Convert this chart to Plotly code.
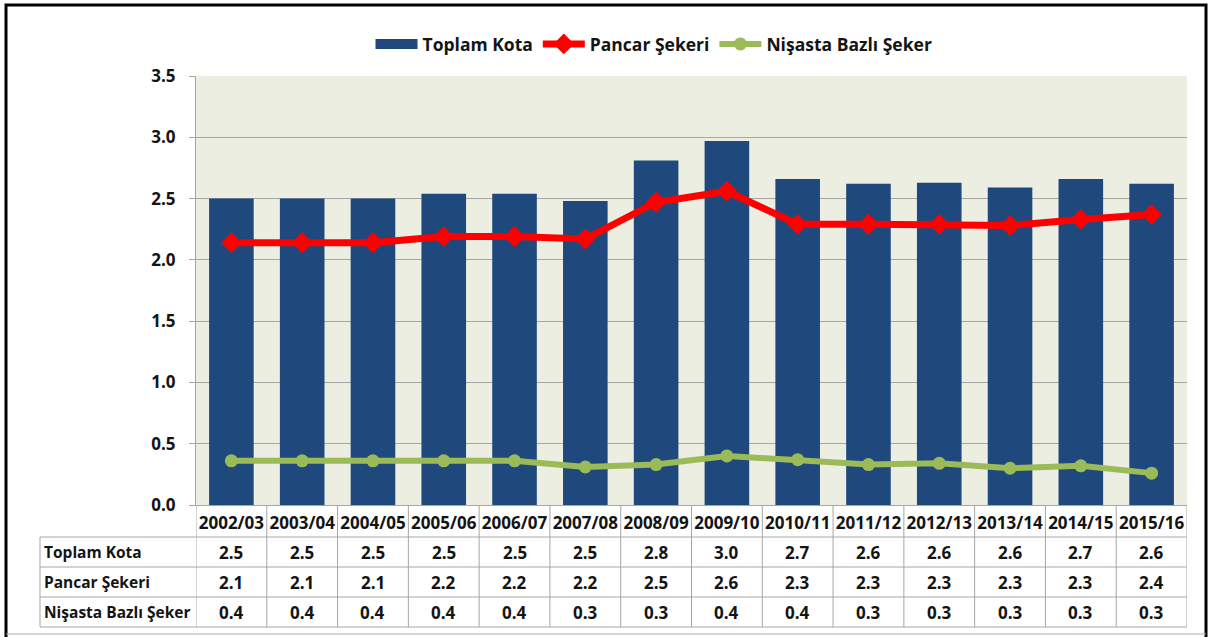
import plotly.graph_objects as go

categories = ["2002/03", "2003/04", "2004/05", "2005/06", "2006/07", "2007/08", "2008/09",
              "2009/10", "2010/11", "2011/12", "2012/13", "2013/14", "2014/15", "2015/16"]
toplam_kota = [2.50, 2.50, 2.50, 2.54, 2.54, 2.48, 2.81, 2.97, 2.66, 2.62, 2.63, 2.59, 2.66, 2.62]
pancar_sekeri = [2.14, 2.14, 2.14, 2.19, 2.19, 2.17, 2.47, 2.56, 2.29, 2.29, 2.29, 2.28, 2.33, 2.37]
nisasta_bazli = [0.36, 0.36, 0.36, 0.36, 0.36, 0.31, 0.33, 0.40, 0.37, 0.33, 0.34, 0.30, 0.32, 0.26]
series_names = ["Toplam Kota", "Pancar Şekeri", "Nişasta Bazlı Şeker"]
y_ticks = [0.0, 0.5, 1.0, 1.5, 2.0, 2.5, 3.0, 3.5]

W, H = 1212, 637
L, R, T, B = 196, 1187, 76, 505
FONT = "Open Sans"
TXT = "#141414"
BLUE = "#1F497D"
RED = "#FF0000"
GREEN = "#9BBB59"
GRID = "#A6A6A6"


def px(x):
    return (x - L) / (R - L)


def py(y):
    return (B - y) / (B - T)


fig = go.Figure()
fig.add_trace(go.Bar(x=categories, y=toplam_kota, name=series_names[0], showlegend=False,
                     marker=dict(color=BLUE, line=dict(width=0))))
# legend swatch for the bars (wide rectangle like the original)
fig.add_trace(go.Scatter(x=[None], y=[None], name=series_names[0], mode="lines",
                         line=dict(color=BLUE, width=10)))
fig.add_trace(go.Scatter(x=categories, y=pancar_sekeri, name=series_names[1], mode="lines+markers",
                         line=dict(color=RED, width=7),
                         marker=dict(symbol="diamond", size=16, color=RED)))
fig.add_trace(go.Scatter(x=categories, y=nisasta_bazli, name=series_names[2], mode="lines+markers",
                         line=dict(color=GREEN, width=6),
                         marker=dict(symbol="circle", size=13, color=GREEN)))

shapes = []
row_lines = [537, 567, 597, 627]
for yy in row_lines:
    shapes.append(dict(type="line", xref="paper", yref="paper", x0=px(40), x1=1, y0=py(yy), y1=py(yy),
                       line=dict(color=GRID, width=1)))
shapes.append(dict(type="line", xref="paper", yref="paper", x0=px(40), x1=px(40), y0=py(537), y1=py(627),
                   line=dict(color=GRID, width=1)))
for k in range(len(categories) + 1):
    shapes.append(dict(type="line", xref="x", yref="paper", x0=k - 0.5, x1=k - 0.5, y0=0, y1=py(627),
                       line=dict(color=GRID, width=1)))
# outer frame
shapes.append(dict(type="rect", xref="paper", yref="paper", x0=px(6), x1=px(1206), y0=py(645), y1=py(5),
                   line=dict(color="black", width=3), fillcolor="rgba(0,0,0,0)", layer="above"))
shapes.append(dict(type="line", xref="paper", yref="paper", x0=px(6), x1=px(1206), y0=py(634), y1=py(634),
                   line=dict(color="#B0B0B0", width=1)))

annotations = []
rows = [toplam_kota, pancar_sekeri, nisasta_bazli]
row_centers = [552, 582, 612]
for name, vals, yc in zip(series_names, rows, row_centers):
    annotations.append(dict(xref="paper", yref="paper", x=px(42), y=py(yc), text=name, showarrow=False,
                            xanchor="left", yanchor="middle",
                            font=dict(family=FONT, size=15.5, color=TXT, weight="bold")))
    for c, v in zip(categories, vals):
        annotations.append(dict(xref="x", yref="paper", x=c, y=py(yc), text=f"{v:.1f}", showarrow=False,
                                xanchor="center", yanchor="middle",
                                font=dict(family=FONT, size=17, color=TXT, weight="bold")))

fig.update_layout(
    width=W, height=H,
    margin=dict(l=L, r=W - R, t=T, b=H - B, pad=0),
    paper_bgcolor="white",
    plot_bgcolor="#EBEEE0",
    bargap=0.37,
    showlegend=True,
    legend=dict(orientation="h", x=px(654), y=py(44), xanchor="center", yanchor="middle",
                font=dict(family=FONT, size=17.5, color=TXT, weight="bold"),
                bgcolor="rgba(0,0,0,0)", itemwidth=42, tracegroupgap=0),
    xaxis=dict(type="category", showgrid=False, showline=True, linecolor=GRID, linewidth=1,
               ticks="", tickfont=dict(family=FONT, size=17, color=TXT, weight="bold"),
               ticklabelstandoff=3, range=[-0.5, len(categories) - 0.5]),
    yaxis=dict(range=[0, 3.5], tickvals=y_ticks, tickformat=".1f", showgrid=True, gridcolor=GRID,
               gridwidth=1, showline=True, linecolor=GRID, linewidth=1, ticks="outside", ticklen=6,
               tickcolor=GRID, zeroline=False,
               tickfont=dict(family=FONT, size=17, color=TXT, weight="bold"),
               ticklabelstandoff=10),
    shapes=shapes,
    annotations=annotations,
)

fig.write_html("out.html", config={"displayModeBar": False},
               post_script="document.body.style.margin='0px';")
